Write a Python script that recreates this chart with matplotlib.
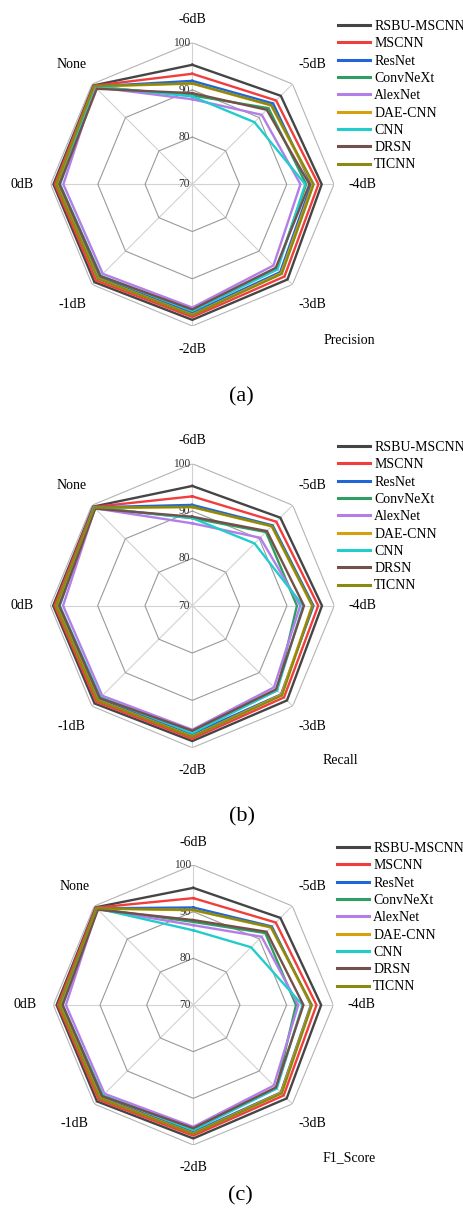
import numpy as np
import matplotlib
matplotlib.use("Agg")
import matplotlib.pyplot as plt
from matplotlib.lines import Line2D

plt.rcParams['font.family'] = ['Liberation Serif', 'DejaVu Serif']

# SNR conditions, clockwise from the top spoke
snr_labels = ['-6dB', '-5dB', '-4dB', '-3dB', '-2dB', '-1dB', '0dB', 'None']

models = ['RSBU-MSCNN', 'MSCNN', 'ResNet', 'ConvNeXt', 'AlexNet',
          'DAE-CNN', 'CNN', 'DRSN', 'TICNN']
colors = ['#454545', '#f23d3d', '#2166d9', '#2e9e62', '#b37ee8',
          '#d6a00c', '#22cccc', '#74504a', '#8a8a12']

# one row per model, one column per SNR condition (%)
precision = [
    [95.3, 96.5, 97.4, 98.5, 98.7, 99.3, 99.4, 99.6],
    [93.4, 95.1, 96.7, 97.6, 98.1, 98.8, 99.1, 99.5],
    [91.9, 94.2, 95.2, 96.3, 97.2, 98.0, 98.5, 99.3],
    [88.8, 92.8, 94.1, 95.3, 96.6, 97.6, 98.2, 99.2],
    [88.0, 90.8, 92.9, 94.3, 96.1, 96.8, 97.3, 99.1],
    [91.3, 93.6, 95.5, 96.6, 97.6, 98.2, 98.7, 99.3],
    [88.6, 88.6, 93.9, 95.5, 96.8, 97.4, 98.0, 99.3],
    [89.3, 92.3, 94.8, 95.0, 96.5, 97.5, 98.1, 98.6],
    [91.4, 93.7, 95.7, 96.8, 97.7, 98.3, 98.8, 99.4],
]
recall = [
    [95.3, 96.3, 97.4, 98.3, 98.6, 99.2, 99.4, 99.6],
    [93.1, 95.1, 96.6, 97.4, 98.1, 98.7, 99.1, 99.5],
    [91.3, 94.0, 95.6, 96.5, 97.1, 98.0, 98.6, 99.4],
    [88.5, 92.0, 92.1, 95.3, 96.6, 97.5, 98.2, 99.3],
    [87.4, 90.3, 92.8, 94.4, 96.2, 96.9, 97.3, 99.1],
    [90.8, 93.7, 95.3, 96.6, 97.6, 98.2, 98.7, 99.2],
    [88.5, 88.6, 93.4, 95.3, 96.9, 97.4, 98.0, 99.4],
    [88.8, 92.3, 93.6, 95.0, 96.4, 97.6, 98.1, 99.0],
    [90.9, 93.8, 95.4, 96.8, 97.7, 98.3, 98.8, 99.3],
]
f1_score = [
    [95.1, 96.4, 97.4, 98.3, 98.6, 99.2, 99.3, 99.6],
    [92.9, 95.0, 96.4, 97.4, 98.0, 98.7, 99.0, 99.5],
    [90.9, 93.8, 95.2, 96.5, 97.2, 98.0, 98.5, 99.3],
    [87.8, 91.8, 92.0, 95.2, 96.5, 97.5, 98.2, 99.2],
    [87.1, 90.7, 92.5, 94.4, 96.1, 96.9, 97.3, 99.1],
    [90.3, 93.5, 95.3, 96.6, 97.5, 98.2, 98.6, 99.2],
    [86.0, 87.5, 93.4, 95.3, 96.8, 97.4, 98.0, 99.3],
    [88.2, 92.2, 93.6, 95.0, 96.4, 97.6, 98.0, 98.9],
    [90.4, 93.6, 95.4, 96.8, 97.6, 98.3, 98.7, 99.3],
]
ring_levels = [70, 80, 90, 100]

W, H = 464, 1209
fig = plt.figure(figsize=(W / 100, H / 100), dpi=100)

angles = np.linspace(0, 2 * np.pi, len(snr_labels), endpoint=False)
closed = np.append(angles, angles[0])


def px_axes(cx, cy, r):
    return fig.add_axes([(cx - r) / W, 1 - (cy + r) / H, 2 * r / W, 2 * r / H],
                        projection='polar')


def draw_panel(cx, cy, rad, values, metric, metric_xy, tag_xy, tag, legend_xy):
    ax = px_axes(cx, cy, rad)
    ax.set_theta_zero_location('N')
    ax.set_theta_direction(-1)
    ax.set_ylim(70, 100)
    ax.grid(False)
    ax.set_xticks([])
    ax.set_yticks([])
    ax.spines['polar'].set_visible(False)
    ax.patch.set_alpha(0)

    # octagonal grid: spokes + rings
    for th in angles:
        ax.plot([th, th], [70, 100], color='#d2d2d2', lw=0.8, zorder=1)
    for lv in ring_levels[1:]:
        ax.plot(closed, [lv] * len(closed), color='#9a9a9a' if lv < 100 else '#b4b4b4',
                lw=0.8, zorder=1)
    for lv in ring_levels:
        ax.annotate(str(lv), xy=(0, lv), xytext=(-1.5, 0), textcoords='offset points',
                    ha='right', va='center', fontsize=8.3, color='#333333', zorder=2)

    # SNR labels around the outside
    for th, lab in zip(angles, snr_labels):
        vertical = abs(np.cos(th)) > 0.99
        r_lab = 104.9 if vertical else 106.0
        ax.text(th, r_lab, lab, ha='center', va='center', fontsize=10,
                clip_on=False)

    for vals, col in zip(values, colors):
        v = np.append(vals, vals[0])
        ax.plot(closed, v, color=col, lw=1.7, zorder=3, solid_joinstyle='miter')

    handles = [Line2D([0], [0], color=c, lw=2.2) for c in colors]
    ax.legend(handles, models, loc='upper left',
              bbox_to_anchor=(legend_xy[0] / W, 1 - legend_xy[1] / H),
              bbox_transform=fig.transFigure, frameon=False, fontsize=10,
              handlelength=2.3, handletextpad=0.3, labelspacing=0.31,
              borderpad=0, borderaxespad=0)

    fig.text(metric_xy[0] / W, 1 - metric_xy[1] / H, metric, fontsize=10,
             ha='center', va='center')
    fig.text(tag_xy[0] / W, 1 - tag_xy[1] / H, tag, fontsize=16,
             ha='center', va='center')


draw_panel(192.3, 184.3, 141.7, precision, 'Precision', (349, 341), (241, 397), '(a)', (338, 20))
draw_panel(192.3, 605.7, 142.0, recall, 'Recall', (340, 761), (242, 817), '(b)', (338, 441))
draw_panel(193.3, 1005.0, 140.0, f1_score, 'F1_Score', (349, 1158), (240, 1196), '(c)', (337, 842))

fig.savefig('out.png', dpi=100)
